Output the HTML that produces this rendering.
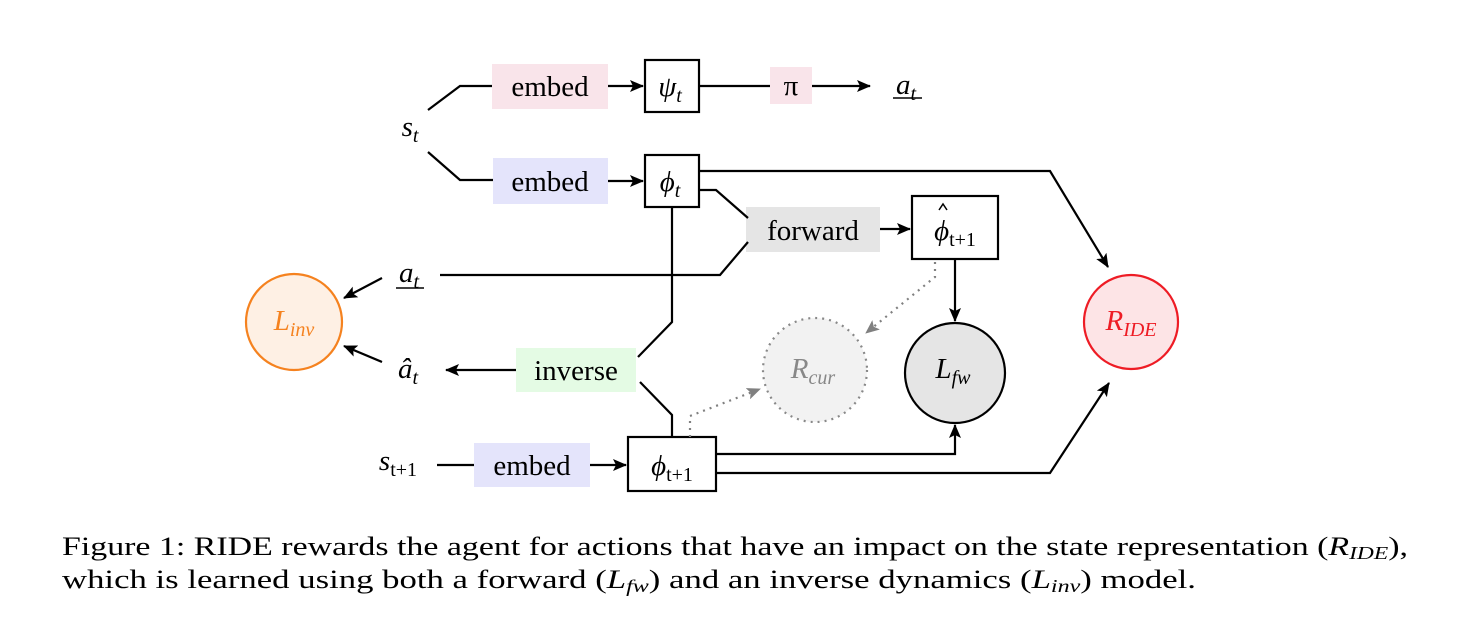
<!DOCTYPE html>
<html><head><meta charset="utf-8"><style>
html,body{margin:0;padding:0;background:#fff;}
svg{display:block;}
text{font-family:"Liberation Serif",serif;}
.m{font-style:italic;}
</style></head><body>
<svg width="1468" height="634" viewBox="0 0 1468 634" xmlns="http://www.w3.org/2000/svg">
<defs>
<marker id="a" markerWidth="14" markerHeight="12" refX="13" refY="6" orient="auto" markerUnits="userSpaceOnUse"><path d="M0,0 L14,6 L0,12 L3,6 z" fill="#000"/></marker>
<marker id="g" markerWidth="14" markerHeight="12" refX="13" refY="6" orient="auto" markerUnits="userSpaceOnUse"><path d="M0,0 L14,6 L0,12 L3,6 z" fill="#808080"/></marker>
</defs>
<g stroke="#000" stroke-width="2.2" fill="none">
<rect x="492" y="64" width="116" height="45" fill="#f9e4ea" stroke="none"/>
<rect x="770" y="67" width="42" height="37" fill="#f9e4ea" stroke="none"/>
<rect x="493" y="158" width="115" height="46" fill="#e4e4fb" stroke="none"/>
<rect x="746" y="207" width="134" height="45" fill="#e5e5e5" stroke="none"/>
<rect x="516" y="348" width="120" height="44" fill="#e4fbe4" stroke="none"/>
<rect x="474" y="443" width="116" height="44" fill="#e4e4fb" stroke="none"/>
<rect x="645" y="60" width="54" height="52" fill="#fff"/>
<rect x="645" y="155" width="54" height="52" fill="#fff"/>
<rect x="912" y="196" width="86" height="63" fill="#fff"/>
<rect x="628" y="437" width="88" height="54" fill="#fff"/>
<polyline points="428,110 460,86 492,86"/>
<line x1="608" y1="86" x2="643" y2="86" marker-end="url(#a)"/>
<line x1="699" y1="86" x2="770" y2="86"/>
<line x1="812" y1="86" x2="870" y2="86" marker-end="url(#a)"/>
<polyline points="428,152 460,180 493,180"/>
<line x1="608" y1="181" x2="643" y2="181" marker-end="url(#a)"/>
<polyline points="699,171 1050,171 1108,267" marker-end="url(#a)"/>
<polyline points="699,190 716,190 748,218"/>
<line x1="880" y1="229" x2="910" y2="229" marker-end="url(#a)"/>
<polyline points="440,275 720,275 748,242"/>
<polyline points="672,207 672,322 638,357"/>
<line x1="516" y1="370" x2="446" y2="370" marker-end="url(#a)"/>
<line x1="382" y1="278" x2="344" y2="298" marker-end="url(#a)"/>
<line x1="382" y1="362" x2="344" y2="346" marker-end="url(#a)"/>
<line x1="955" y1="259" x2="955" y2="321" marker-end="url(#a)"/>
<polyline points="672,437 672,415 640,382"/>
<line x1="437" y1="465" x2="474" y2="465"/>
<line x1="590" y1="465" x2="626" y2="465" marker-end="url(#a)"/>
<polyline points="716,454 955,454 955,425" marker-end="url(#a)"/>
<polyline points="716,473 1050,473 1109,383" marker-end="url(#a)"/>
</g>
<g stroke="#808080" stroke-width="2.2" fill="none" stroke-dasharray="2,5">
<polyline points="935,262 935,277 866,333" marker-end="url(#g)"/>
<polyline points="690,437 690,416 760,389" marker-end="url(#g)"/>
</g>
<circle cx="294" cy="322" r="48" fill="#fef0e4" stroke="#f5821f" stroke-width="2.2"/>
<circle cx="815" cy="370" r="52" fill="#f2f2f2" stroke="#888" stroke-width="2.2" stroke-dasharray="2,5"/>
<circle cx="955" cy="373" r="50" fill="#e5e5e5" stroke="#000" stroke-width="2.2"/>
<circle cx="1131" cy="322" r="47" fill="#fde4e6" stroke="#ee1c25" stroke-width="2.2"/>
<g font-size="29" text-anchor="middle">
<text x="550" y="96">embed</text>
<text x="550" y="191">embed</text>
<text x="813" y="240">forward</text>
<text x="576" y="380">inverse</text>
<text x="532" y="475">embed</text>
<text x="791" y="95">π</text>
<text x="670" y="96" class="m">ψ<tspan font-size="20" dy="6">t</tspan></text>
<text x="670" y="191" class="m">ϕ<tspan font-size="20" dy="6">t</tspan></text>
<text x="955" y="240" class="m">ϕ<tspan font-size="20" dy="6" font-style="normal">t+1</tspan></text>
<text x="672" y="475" class="m">ϕ<tspan font-size="20" dy="6" font-style="normal">t+1</tspan></text>
<text x="906" y="94" class="m">a<tspan font-size="20" dy="6">t</tspan></text>
<text x="410" y="136" class="m">s<tspan font-size="20" dy="6">t</tspan></text>
<text x="409" y="282" class="m">a<tspan font-size="20" dy="6">t</tspan></text>
<text x="408" y="378" class="m">â<tspan font-size="20" dy="6">t</tspan></text>
<text x="398" y="470" class="m">s<tspan font-size="20" dy="6" font-style="normal">t+1</tspan></text>
<text x="294" y="330" class="m" fill="#f5821f">L<tspan font-size="20" dy="6">inv</tspan></text>
<text x="813" y="378" class="m" fill="#888">R<tspan font-size="20" dy="6">cur</tspan></text>
<text x="953" y="378" class="m">L<tspan font-size="20" dy="6">fw</tspan></text>
<text x="1131" y="330" class="m" fill="#ee1c25">R<tspan font-size="20" dy="6">IDE</tspan></text>
</g>
<path d="M939,210 L943,204 L947,210" stroke="#000" stroke-width="1.5" fill="none"/>
<line x1="893" y1="98" x2="922" y2="98" stroke="#000" stroke-width="1.5"/>
<line x1="396" y1="288" x2="424" y2="288" stroke="#000" stroke-width="1.5"/>
<text x="62" y="555" font-size="26" textLength="1346" lengthAdjust="spacingAndGlyphs">Figure 1: RIDE rewards the agent for actions that have an impact on the state representation (<tspan font-style="italic">R<tspan font-size="18" dy="4">IDE</tspan></tspan><tspan dy="-4">),</tspan></text>
<text x="62" y="588" font-size="26" textLength="1134" lengthAdjust="spacingAndGlyphs">which is learned using both a forward (<tspan font-style="italic">L<tspan font-size="18" dy="4">fw</tspan></tspan><tspan dy="-4">) and an inverse dynamics (</tspan><tspan font-style="italic">L<tspan font-size="18" dy="4">inv</tspan></tspan><tspan dy="-4">) model.</tspan></text>
</svg>
</body></html>
